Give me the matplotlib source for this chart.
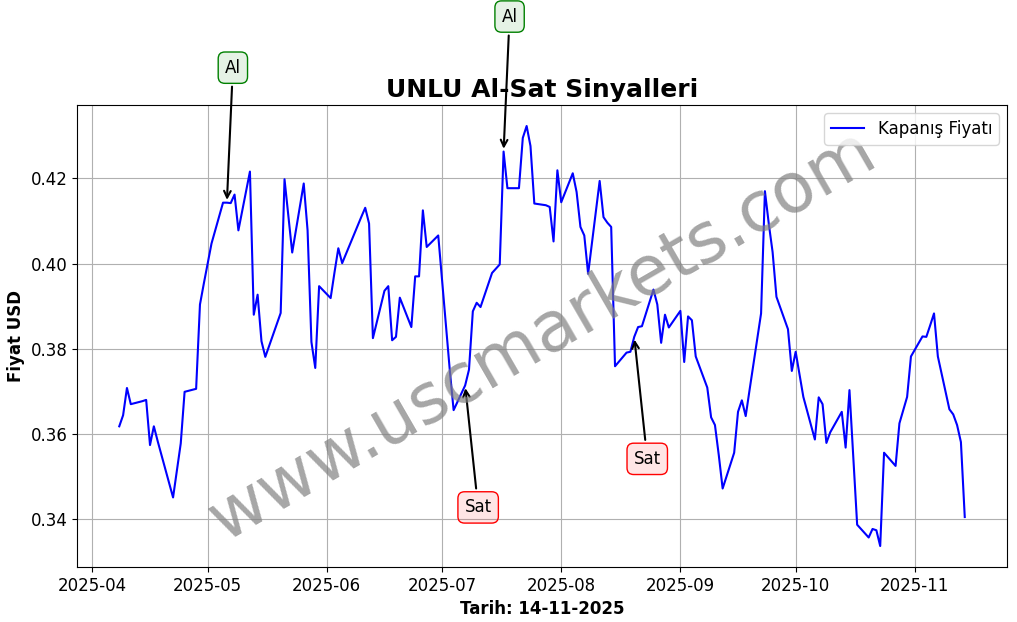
import matplotlib
matplotlib.use("Agg")
import matplotlib.pyplot as plt
import pandas as pd

# Kapanış fiyatları (iş günleri)
dates = [
    "2025-04-08", "2025-04-09", "2025-04-10", "2025-04-11", "2025-04-14", "2025-04-15", "2025-04-16",
    "2025-04-17", "2025-04-18", "2025-04-21", "2025-04-22", "2025-04-24", "2025-04-25", "2025-04-28",
    "2025-04-29", "2025-04-30",
    "2025-05-02", "2025-05-05", "2025-05-06", "2025-05-07", "2025-05-08", "2025-05-09", "2025-05-12",
    "2025-05-13", "2025-05-14", "2025-05-15", "2025-05-16", "2025-05-20", "2025-05-21", "2025-05-22",
    "2025-05-23", "2025-05-26", "2025-05-27", "2025-05-28", "2025-05-29", "2025-05-30",
    "2025-06-02", "2025-06-03", "2025-06-04", "2025-06-05", "2025-06-10", "2025-06-11", "2025-06-12",
    "2025-06-13", "2025-06-16", "2025-06-17", "2025-06-18", "2025-06-19", "2025-06-20", "2025-06-23",
    "2025-06-24", "2025-06-25", "2025-06-26", "2025-06-27", "2025-06-30",
    "2025-07-01", "2025-07-02", "2025-07-03", "2025-07-04", "2025-07-07", "2025-07-08", "2025-07-09",
    "2025-07-10", "2025-07-11", "2025-07-14", "2025-07-16", "2025-07-17", "2025-07-18", "2025-07-21",
    "2025-07-22", "2025-07-23", "2025-07-24", "2025-07-25", "2025-07-28", "2025-07-29", "2025-07-30",
    "2025-07-31",
    "2025-08-01", "2025-08-04", "2025-08-05", "2025-08-06", "2025-08-07", "2025-08-08", "2025-08-11",
    "2025-08-12", "2025-08-13", "2025-08-14", "2025-08-15", "2025-08-18", "2025-08-19", "2025-08-20",
    "2025-08-21", "2025-08-22", "2025-08-25", "2025-08-26", "2025-08-27", "2025-08-28", "2025-08-29",
    "2025-09-01", "2025-09-02", "2025-09-03", "2025-09-04", "2025-09-05", "2025-09-08", "2025-09-09",
    "2025-09-10", "2025-09-11", "2025-09-12", "2025-09-15", "2025-09-16", "2025-09-17", "2025-09-18",
    "2025-09-19", "2025-09-22", "2025-09-23", "2025-09-24", "2025-09-25", "2025-09-26", "2025-09-29",
    "2025-09-30",
    "2025-10-01", "2025-10-02", "2025-10-03", "2025-10-06", "2025-10-07", "2025-10-08", "2025-10-09",
    "2025-10-10", "2025-10-13", "2025-10-14", "2025-10-15", "2025-10-16", "2025-10-17", "2025-10-20",
    "2025-10-21", "2025-10-22", "2025-10-23", "2025-10-24", "2025-10-27", "2025-10-28", "2025-10-30",
    "2025-10-31",
    "2025-11-03", "2025-11-04", "2025-11-05", "2025-11-06", "2025-11-07", "2025-11-10", "2025-11-11",
    "2025-11-12", "2025-11-13", "2025-11-14",
]
prices = [
    0.3618, 0.3644, 0.3708, 0.3670, 0.3677, 0.3680, 0.3574,
    0.3618, 0.3583, 0.3484, 0.3451, 0.3578, 0.3699, 0.3706,
    0.3904, 0.3953,
    0.4047, 0.4143, 0.4143, 0.4142, 0.4162, 0.4078, 0.4216,
    0.3880, 0.3927, 0.3818, 0.3781, 0.3884, 0.4198, 0.4112,
    0.4026, 0.4188, 0.4078, 0.3816, 0.3755, 0.3947,
    0.3919, 0.3979, 0.4036, 0.4001, 0.4110, 0.4131, 0.4094,
    0.3825, 0.3936, 0.3947, 0.3820, 0.3828, 0.3920, 0.3851,
    0.3970, 0.3970, 0.4125, 0.4039, 0.4066,
    0.3961, 0.3855, 0.3750, 0.3656, 0.3714, 0.3751, 0.3888,
    0.3908, 0.3898, 0.3978, 0.3998, 0.4263, 0.4177, 0.4177,
    0.4295, 0.4323, 0.4276, 0.4141, 0.4137, 0.4133, 0.4052,
    0.4219,
    0.4144, 0.4212, 0.4168, 0.4086, 0.4066, 0.3976, 0.4194,
    0.4109, 0.4096, 0.4086, 0.3759, 0.3791, 0.3793, 0.3828,
    0.3851, 0.3853, 0.3939, 0.3904, 0.3814, 0.3880, 0.3850,
    0.3889, 0.3769, 0.3876, 0.3867, 0.3782, 0.3709, 0.3639,
    0.3621, 0.3550, 0.3472, 0.3556, 0.3652, 0.3679, 0.3642,
    0.3703, 0.3883, 0.4170, 0.4094, 0.4027, 0.3922, 0.3846,
    0.3748,
    0.3793, 0.3740, 0.3687, 0.3587, 0.3686, 0.3670, 0.3579,
    0.3604, 0.3652, 0.3568, 0.3703, 0.3544, 0.3387, 0.3357,
    0.3377, 0.3374, 0.3337, 0.3556, 0.3525, 0.3625, 0.3687,
    0.3782,
    0.3829, 0.3828, 0.3855, 0.3883, 0.3782, 0.3658, 0.3646,
    0.3621, 0.3581, 0.3405,
]

# Sinyaller
buy_dates = ["2025-05-06", "2025-07-17"]
sell_dates = ["2025-07-07", "2025-08-20"]

df = pd.DataFrame({"Close": prices}, index=pd.to_datetime(dates))

fig, ax = plt.subplots(figsize=(10.17, 6.22), dpi=100)
fig.subplots_adjust(left=0.0757, right=0.9902, top=0.8312, bottom=0.0884)

ax.plot(df.index, df["Close"], color="blue", lw=1.5, label="Kapanış Fiyatı")

for d in buy_dates:
    t = pd.Timestamp(d)
    ax.annotate("Al", xy=(t, df.loc[t, "Close"]), xytext=(6, 135), textcoords="offset pixels",
                ha="center", va="center", fontsize=12,
                bbox=dict(boxstyle="round,pad=0.4", fc=(0, 0.5, 0, 0.1), ec="green"),
                arrowprops=dict(arrowstyle="->", color="black", lw=1.5))

for d in sell_dates:
    t = pd.Timestamp(d)
    ax.annotate("Sat", xy=(t, df.loc[t, "Close"]), xytext=(13, -122), textcoords="offset pixels",
                ha="center", va="center", fontsize=12,
                bbox=dict(boxstyle="round,pad=0.4", fc=(1, 0, 0, 0.1), ec="red"),
                arrowprops=dict(arrowstyle="->", color="black", lw=1.5))

# filigran
ax.text(0.5, 0.5, "www.uscmarkets.com", transform=ax.transAxes, fontsize=50,
        color="gray", alpha=0.7, rotation=30, ha="center", va="center")

ax.set_title("UNLU Al-Sat Sinyalleri", fontsize=18, fontweight="bold")
ax.set_xlabel("Tarih: 14-11-2025", fontsize=12, fontweight="bold")
ax.set_ylabel("Fiyat USD", fontsize=12, fontweight="bold")
ax.tick_params(labelsize=12)
ax.grid(True)
ax.legend(loc="upper right", fontsize=12)

fig.savefig("out.png", dpi=100)
